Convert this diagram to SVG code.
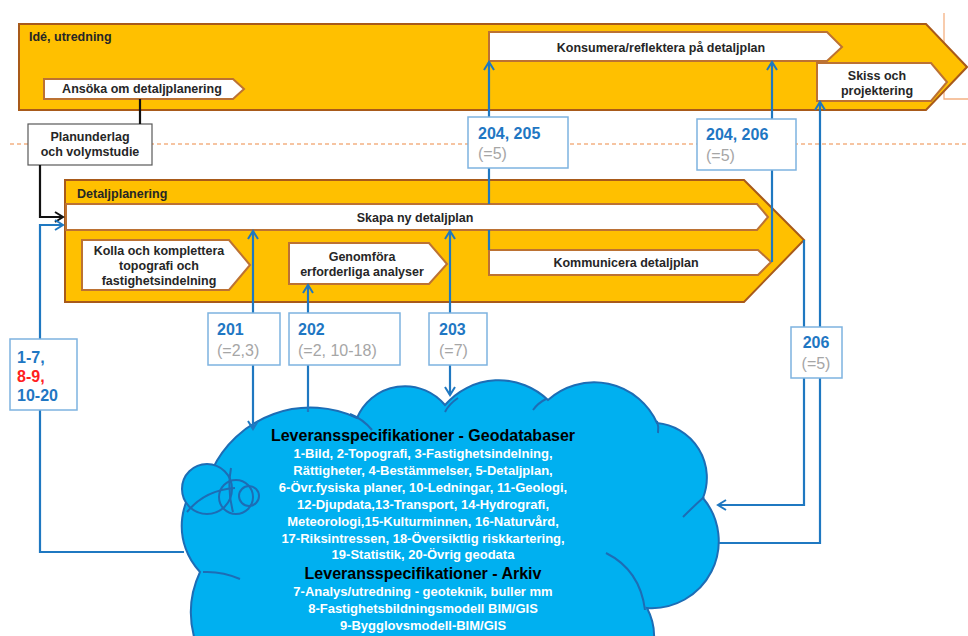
<svg xmlns="http://www.w3.org/2000/svg" width="968" height="636" viewBox="0 0 968 636">
<defs>
<style>
text{font-family:"Liberation Sans",Arial,sans-serif}
.lbl{font-weight:bold;font-size:12.5px;fill:#262626}
.mid{text-anchor:middle}
.phase{fill:#FFC000;stroke:#A85A1A;stroke-width:2}
.wbox{fill:#fff;stroke:#BC7233;stroke-width:2}
.nbox{fill:#fff;stroke:#7DB3E0;stroke-width:1.5}
.num{font-weight:bold;font-size:16px;fill:#1F77C3}
.red{fill:#FF2020}
.eq{font-size:16px;fill:#A6A6A6}
.conn{fill:none;stroke:#1F78C1;stroke-width:2.2}
.blk{fill:none;stroke:#111;stroke-width:2.2}
.ctext{font-weight:bold;font-size:13px;fill:#fff;text-anchor:middle}
.chead{font-weight:bold;font-size:16px;fill:#000;text-anchor:middle}
.cloud{fill:#00B0F0;stroke:#1D6DB5;stroke-width:2}
.cin{fill:none;stroke:#1D6DB5;stroke-width:2}
.guide{fill:none;stroke:#F4B183;stroke-width:1.3}
</style>
<marker id="ab" viewBox="0 0 12 12" refX="10" refY="6" markerWidth="12" markerHeight="12" markerUnits="userSpaceOnUse" orient="auto-start-reverse"><path d="M2,1 L10,6 L2,11" fill="none" stroke="#1F78C1" stroke-width="2"/></marker>
<marker id="ak" viewBox="0 0 12 12" refX="10" refY="6" markerWidth="12" markerHeight="12" markerUnits="userSpaceOnUse" orient="auto"><path d="M2,1 L10,6 L2,11" fill="none" stroke="#111" stroke-width="2"/></marker>
</defs>

<g id="guides">
<path class="guide" d="M10,144 H968" stroke-dasharray="4 3"/>
<path class="guide" d="M944,13 V99 H968"/>
</g>

<g id="ide-utredning">
<polygon class="phase" points="19,24 926,24 967,67 926,110 19,110"/>
<text class="lbl" x="29" y="41">Idé, utredning</text>
</g>

<g id="ansoka">
<polygon class="wbox" points="44,79 233,79 244,89 233,99 44,99"/>
<text class="lbl mid" x="142" y="93">Ansöka om detaljplanering</text>
</g>

<g id="konsumera">
<polygon class="wbox" points="489,32 827,32 842,47 827,61 489,61"/>
<text class="lbl mid" x="661" y="51.5">Konsumera/reflektera på detaljplan</text>
</g>

<g id="skiss">
<polygon class="wbox" points="817,63 931,63 947,82 931,101 817,101"/>
<text class="lbl mid" x="877" y="79.5">Skiss och</text>
<text class="lbl mid" x="877" y="95">projektering</text>
</g>

<g id="detaljplanering">
<polygon class="phase" points="65,180 744,180 804,240 744,302 65,302"/>
<text class="lbl" x="77" y="197.5">Detaljplanering</text>
</g>

<g id="skapa">
<polygon class="wbox" points="66,204 757,204 768,217 757,230 66,230"/>
<text class="lbl mid" x="415" y="221.5">Skapa ny detaljplan</text>
</g>

<g id="kolla">
<polygon class="wbox" points="82,240 229,240 250,265 229,290 82,290"/>
<text class="lbl mid" x="159" y="254.5">Kolla och komplettera</text>
<text class="lbl mid" x="159" y="269.5">topografi och</text>
<text class="lbl mid" x="159" y="284.5">fastighetsindelning</text>
</g>

<g id="genomfora">
<polygon class="wbox" points="289,243 429,243 447,264 429,284 289,284"/>
<text class="lbl mid" x="362" y="260.5">Genomföra</text>
<text class="lbl mid" x="362" y="275.5">erforderliga analyser</text>
</g>

<g id="kommunicera">
<polygon class="wbox" points="489,250 758,250 771,262 758,275 489,275"/>
<text class="lbl mid" x="626" y="266.5">Kommunicera detaljplan</text>
</g>

<g id="planunderlag">
<rect x="28" y="124" width="124" height="41" fill="#fff" stroke="#595959" stroke-width="1.2"/>
<text class="lbl mid" x="90" y="141">Planunderlag</text>
<text class="lbl mid" x="90" y="156">och volymstudie</text>
</g>

<g id="leveransspecifikationer">
<path class="cloud" d="M230,690 A96 96 0 0 1 200,572 A67 67 0 0 1 212,470 A109 109 0 0 1 357,418 A52 52 0 0 1 445,405 A71 71 0 0 1 548,400 A69 69 0 0 1 657,423 A55 55 0 0 1 703,498 A67 67 0 0 1 647,608 A60 60 0 0 1 620,690 Z"/>
<circle class="cloud" cx="207" cy="489" r="25"/>
<circle class="cin" cx="236" cy="497" r="17"/>
<circle class="cin" cx="249" cy="496" r="10"/>
<path class="cin" d="M187,512 Q205,490 235,488"/>
<path class="cin" d="M231,468 Q227,490 233,512"/>
<path class="cin" d="M350,414 Q363,419 372,430"/>
<path class="cin" d="M445,412 Q449,404 458,398"/>
<path class="cin" d="M533,410 Q538,403 546,399"/>
<path class="cin" d="M657,421 Q659,427 658,433"/>
<path class="cin" d="M683,517 Q694,506 704,497"/>
<path class="cin" d="M606,553 Q640,570 645,610"/>
<path class="cin" d="M203,572 Q222,571 240,579"/>
<text class="chead" x="423" y="440.5">Leveransspecifikationer - Geodatabaser</text>
<text class="ctext" x="423" y="458">1-Bild, 2-Topografi, 3-Fastighetsindelning,</text>
<text class="ctext" x="423" y="475">Rättigheter, 4-Bestämmelser, 5-Detaljplan,</text>
<text class="ctext" x="423" y="492">6-Övr.fysiska planer, 10-Ledningar, 11-Geologi,</text>
<text class="ctext" x="423" y="509">12-Djupdata,13-Transport, 14-Hydrografi,</text>
<text class="ctext" x="423" y="526">Meteorologi,15-Kulturminnen, 16-Naturvård,</text>
<text class="ctext" x="423" y="543">17-Riksintressen, 18-Översiktlig riskkartering,</text>
<text class="ctext" x="423" y="559">19-Statistik, 20-Övrig geodata</text>
<text class="chead" x="423" y="579">Leveransspecifikationer - Arkiv</text>
<text class="ctext" x="423" y="596">7-Analys/utredning - geoteknik, buller mm</text>
<text class="ctext" x="423" y="613">8-Fastighetsbildningsmodell BIM/GIS</text>
<text class="ctext" x="423" y="630">9-Bygglovsmodell-BIM/GIS</text>
</g>

<g id="connectors">
<path class="blk" d="M140,99 V124"/>
<path class="blk" d="M40,165 V217 H63" marker-end="url(#ak)"/>
<path class="conn" d="M40,339 V225 H63" marker-end="url(#ab)"/>
<path class="conn" d="M40,410 V552 H184"/>
<path class="conn" d="M489,250 V230 M489,204 V62" marker-end="url(#ab)"/>
<path class="conn" d="M772,262 V62" marker-end="url(#ab)"/>
<path class="conn" d="M719,543 H820 V102" marker-end="url(#ab)"/>
<path class="conn" d="M804,240 V505 H718" marker-end="url(#ab)"/>
<path class="conn" d="M253,231 V429" marker-start="url(#ab)" marker-end="url(#ab)"/>
<path class="conn" d="M308,412 V285" marker-end="url(#ab)"/>
<path class="conn" d="M450,231 V395" marker-start="url(#ab)" marker-end="url(#ab)"/>
</g>

<g id="box-1-20">
<rect class="nbox" x="10" y="339" width="67" height="71"/>
<text class="num" x="17" y="363">1-7,</text>
<text class="num red" x="17" y="382">8-9,</text>
<text class="num" x="17" y="401">10-20</text>
</g>
<g id="box-201">
<rect class="nbox" x="208" y="313" width="72" height="52"/>
<text class="num" x="217" y="335">201</text>
<text class="eq" x="217" y="356">(=2,3)</text>
</g>
<g id="box-202">
<rect class="nbox" x="289" y="313" width="111" height="52"/>
<text class="num" x="298" y="335">202</text>
<text class="eq" x="298" y="356">(=2, 10-18)</text>
</g>
<g id="box-203">
<rect class="nbox" x="429" y="313" width="58" height="52"/>
<text class="num" x="439" y="335">203</text>
<text class="eq" x="439" y="356">(=7)</text>
</g>
<g id="box-204-205">
<rect class="nbox" x="468" y="117" width="100" height="51"/>
<text class="num" x="478" y="138.5">204, 205</text>
<text class="eq" x="478" y="159">(=5)</text>
</g>
<g id="box-204-206">
<rect class="nbox" x="697" y="119" width="99" height="51"/>
<text class="num" x="706" y="140">204, 206</text>
<text class="eq" x="706" y="161">(=5)</text>
</g>
<g id="box-206">
<rect class="nbox" x="791" y="327" width="51" height="51"/>
<text class="num mid" x="816" y="348">206</text>
<text class="eq mid" x="816" y="369">(=5)</text>
</g>
</svg>
